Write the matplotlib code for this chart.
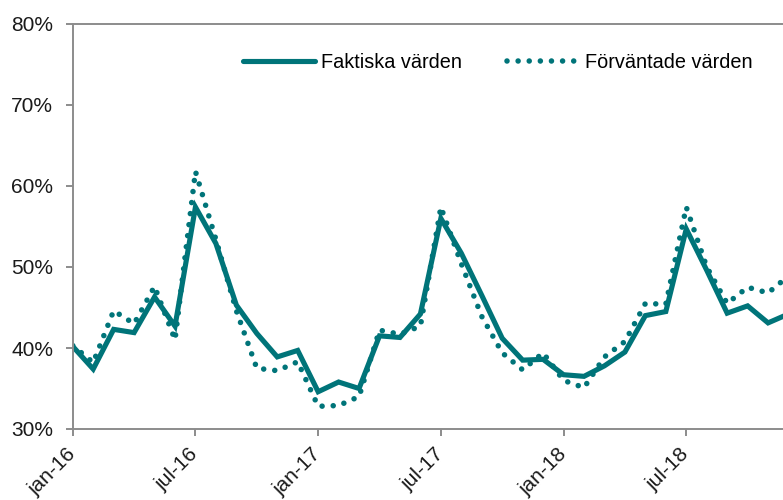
import matplotlib.pyplot as plt
import numpy as np

# Månadsdata jan-16 .. dec-18 (andel, %)
months = ['jan-16', 'feb-16', 'mar-16', 'apr-16', 'maj-16', 'jun-16',
          'jul-16', 'aug-16', 'sep-16', 'okt-16', 'nov-16', 'dec-16',
          'jan-17', 'feb-17', 'mar-17', 'apr-17', 'maj-17', 'jun-17',
          'jul-17', 'aug-17', 'sep-17', 'okt-17', 'nov-17', 'dec-17',
          'jan-18', 'feb-18', 'mar-18', 'apr-18', 'maj-18', 'jun-18',
          'jul-18', 'aug-18', 'sep-18', 'okt-18', 'nov-18', 'dec-18']

faktiska = [40.2, 37.4, 42.3, 41.9, 46.3, 42.7, 57.4, 52.9, 45.3, 41.8, 38.9, 39.7,
            34.6, 35.8, 35.0, 41.5, 41.3, 44.2, 56.0, 51.7, 46.5, 41.2, 38.5, 38.6,
            36.7, 36.5, 37.8, 39.5, 44.0, 44.5, 54.7, 49.6, 44.3, 45.2, 43.1, 44.2]

forvantade = [40.3, 38.2, 44.6, 43.0, 47.6, 41.0, 61.8, 53.4, 44.6, 37.5, 37.2, 38.3,
              32.8, 32.9, 34.0, 42.2, 41.7, 42.7, 57.4, 50.4, 43.9, 39.4, 37.3, 39.4,
              36.0, 35.1, 38.9, 40.8, 45.5, 45.4, 57.4, 50.0, 45.5, 47.5, 46.8, 48.9]

tick_pos = [0, 6, 12, 18, 24, 30]
tick_labels = [months[i] for i in tick_pos]
y_ticks = [30, 40, 50, 60, 70, 80]

teal = '#007479'
grey = '#8c8c8c'

plt.rcParams['font.family'] = ['Liberation Sans', 'DejaVu Sans']

fig = plt.figure(figsize=(7.83, 5.0), dpi=100)
ax = fig.add_axes([0.0929, 0.142, 0.9071, 0.810])

x = np.arange(len(months))
ax.plot(x, faktiska, color=teal, lw=3.7, solid_capstyle='round',
        solid_joinstyle='miter', label='Faktiska värden')
ax.plot(x, forvantade, color=teal, lw=4.0, linestyle=(0, (0.001, 2.0)),
        dash_capstyle='round', label='Förväntade värden')

ax.set_xlim(0, 34.73)
ax.set_ylim(30, 80)
ax.set_yticks(y_ticks)
ax.set_yticklabels([f'{v}%' for v in y_ticks])
ax.set_xticks(tick_pos)
ax.set_xticklabels(tick_labels, rotation=45, ha='right', va='center',
                   rotation_mode='anchor')

for side in ['left', 'bottom', 'top']:
    ax.spines[side].set_color(grey)
    ax.spines[side].set_linewidth(1.4)
ax.spines['right'].set_visible(False)
ax.tick_params(axis='both', direction='out', length=5, width=1.4, color=grey,
               labelcolor='#1a1a1a')
ax.tick_params(axis='x', labelsize=15, pad=11)
ax.tick_params(axis='y', labelsize=15, pad=9)

ax.legend(loc='center left', bbox_to_anchor=(0.24, 0.906), ncol=2,
          frameon=False, fontsize=14.3, handlelength=3.6, handletextpad=0.3,
          columnspacing=2.3, borderpad=0, borderaxespad=0)

fig.savefig('out.png', dpi=100)
